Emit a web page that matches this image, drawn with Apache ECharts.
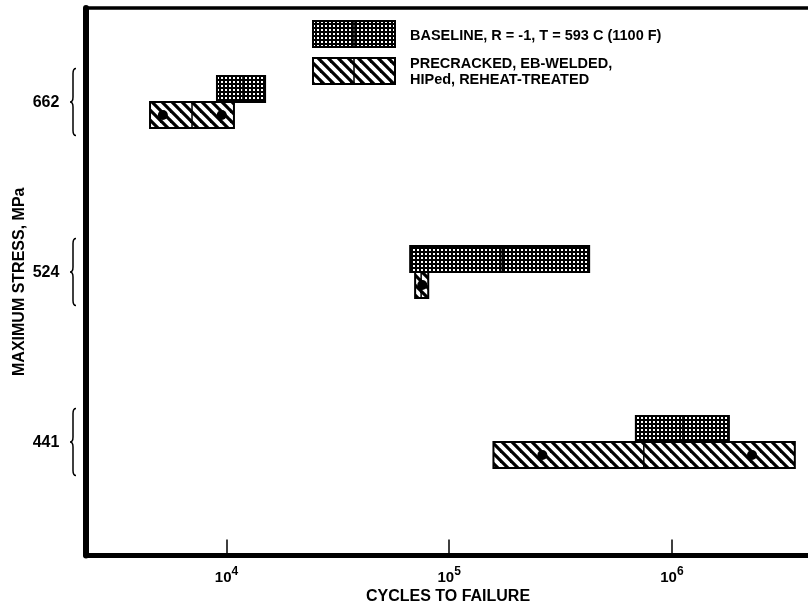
<!DOCTYPE html>
<html><head><meta charset="utf-8">
<script src="https://cdn.jsdelivr.net/npm/echarts@6/dist/echarts.min.js"></script>
<style>html,body{margin:0;padding:0;background:#fff}#c{width:808px;height:608px}</style>
</head><body><div id="c"></div>
<script>
// ---- data ----
const stressLevels = ['662', '524', '441'];
// baseline boxes: low / median / high cycles to failure
const baselineLow  = [9060, 66800, 689000];
const baselineMed  = [11860, 173000, 1121000];
const baselineHigh = [14900, 425000, 1803000];
// precracked, EB-welded, HIPed, reheat-treated boxes
const precrackLow  = [4535, 70300, 158000];
const precrackMed  = [7000, 74800, 748000];
const precrackHigh = [10800, 80500, 3565000];
// individual specimen points (precracked)
const pointLevel  = [0, 0, 1, 2, 2];
const pointCycles = [5180, 9520, 75700, 262000, 2290000];
// x tick exponents (10^n)
const xTickExponents = [4, 5, 6];
const legendBaseline = 'BASELINE, R = -1, T = 593 C (1100 F)';
const legendPrecrack = 'PRECRACKED, EB-WELDED,\nHIPed, REHEAT-TREATED';

const X_MIN = 2339, X_MAX = 4170000;
const FONT = "'Liberation Sans', Arial, Helvetica, sans-serif";

// patterns
function dotPatternCanvas() {
  const c = document.createElement('canvas'); c.width = 4; c.height = 4;
  const g = c.getContext('2d');
  g.fillStyle = '#000'; g.fillRect(0, 0, 4, 4);
  g.fillStyle = '#fff'; g.fillRect(1, 1, 2, 2);
  return c;
}
function hatchPatternCanvas() {
  const c = document.createElement('canvas'); c.width = 10; c.height = 10;
  const g = c.getContext('2d');
  g.fillStyle = '#fff'; g.fillRect(0, 0, 10, 10);
  g.strokeStyle = '#000'; g.lineWidth = 3.2;
  [-10, 0, 10].forEach(o => { g.beginPath(); g.moveTo(o - 2, -2); g.lineTo(o + 12, 12); g.stroke(); });
  return c;
}
const dotFill = { image: dotPatternCanvas(), repeat: 'repeat' };
const hatchFill = { image: hatchPatternCanvas(), repeat: 'repeat' };

const boxData = [];
stressLevels.forEach((s, i) => {
  boxData.push([i, baselineLow[i], baselineMed[i], baselineHigh[i], 0]);
  boxData.push([i, precrackLow[i], precrackMed[i], precrackHigh[i], 1]);
});
const pointData = pointCycles.map((c, i) => [c, pointLevel[i]]);
const levelData = stressLevels.map((s, i) => [i]);

const BOX_H = 26;

const chart = echarts.init(document.getElementById('c'), null, { renderer: 'canvas' });
chart.setOption({
  animation: false,
  backgroundColor: '#fff',
  grid: { left: 86, width: 724, top: 8, bottom: 52.5, outerBoundsMode: 'none', containLabel: false },
  xAxis: [{
    type: 'log', logBase: 10, min: X_MIN, max: X_MAX,
    name: 'CYCLES TO FAILURE', nameLocation: 'middle', nameGap: 33, nameMoveOverlap: false,
    nameTextStyle: { color: '#000', fontFamily: FONT, fontWeight: 'bold', fontSize: 16 },
    axisLine: { show: true, onZero: false, lineStyle: { color: '#000', width: 5 } },
    axisTick: { show: true, inside: true, length: 16, lineStyle: { color: '#000', width: 1.5 } },
    splitLine: { show: false }, minorTick: { show: false },
    axisLabel: {
      margin: 10,
      formatter: v => {
        const l = Math.log10(v), e = Math.round(l);
        if (Math.abs(l - e) > 1e-6 || xTickExponents.indexOf(e) < 0) return '';
        return '{b|10}{s|' + e + '}';
      },
      rich: {
        b: { fontFamily: FONT, fontWeight: 'bold', fontSize: 15, color: '#000', lineHeight: 20, verticalAlign: 'bottom' },
        s: { fontFamily: FONT, fontWeight: 'bold', fontSize: 12, color: '#000', lineHeight: 12, verticalAlign: 'top' }
      }
    }
  }, {
    type: 'log', logBase: 10, min: X_MIN, max: X_MAX, position: 'top',
    axisLine: { show: true, onZero: false, lineStyle: { color: '#000', width: 3.5 } },
    axisTick: { show: false }, axisLabel: { show: false }, splitLine: { show: false }
  }],
  yAxis: {
    type: 'value', inverse: true, min: -0.5529, max: 2.6677,
    name: 'MAXIMUM STRESS, MPa', nameLocation: 'middle', nameRotate: 90, nameGap: 58,
    nameTextStyle: { color: '#000', fontFamily: FONT, fontWeight: 'bold', fontSize: 16 },
    axisLine: { show: true, onZero: false, lineStyle: { color: '#000', width: 6 } },
    axisTick: { show: false }, axisLabel: { show: false }, splitLine: { show: false }
  },
  graphic: [
    { type: 'rect', shape: { x: 313, y: 21, width: 82, height: 26 }, style: { fill: dotFill, stroke: '#000', lineWidth: 2 } },
    { type: 'line', shape: { x1: 354, y1: 21, x2: 354, y2: 47 }, style: { stroke: '#000', lineWidth: 1.5 } },
    { type: 'rect', shape: { x: 313, y: 58, width: 82, height: 26 }, style: { fill: hatchFill, stroke: '#000', lineWidth: 2 } },
    { type: 'line', shape: { x1: 354, y1: 58, x2: 354, y2: 84 }, style: { stroke: '#000', lineWidth: 1.5 } },
    { type: 'text', x: 410, y: 36, style: { text: legendBaseline, fill: '#000', font: 'bold 14.5px ' + FONT, verticalAlign: 'middle' } },
    { type: 'text', x: 410, y: 72, style: { text: legendPrecrack, fill: '#000', font: 'bold 14.5px ' + FONT, verticalAlign: 'middle', lineHeight: 16 } }
  ],
  series: [
    {
      type: 'custom', name: 'boxes', data: boxData, encode: { x: [1, 2, 3], y: 0 }, clip: false,
      renderItem: (params, api) => {
        const lvl = api.value(0), kind = api.value(4);
        const pLo = api.coord([api.value(1), lvl]);
        const pMd = api.coord([api.value(2), lvl]);
        const pHi = api.coord([api.value(3), lvl]);
        const top = kind === 0 ? pLo[1] - BOX_H : pLo[1];
        return { type: 'group', children: [
          { type: 'rect', shape: { x: pLo[0], y: top, width: pHi[0] - pLo[0], height: BOX_H },
            style: { fill: kind === 0 ? dotFill : hatchFill, stroke: '#000', lineWidth: 2 } },
          { type: 'line', shape: { x1: pMd[0], y1: top, x2: pMd[0], y2: top + BOX_H },
            style: { stroke: '#000', lineWidth: 1.5 } }
        ] };
      }
    },
    {
      type: 'scatter', name: 'points', data: pointData, symbol: 'circle', symbolSize: 10,
      symbolOffset: [0, BOX_H / 2], itemStyle: { color: '#000', opacity: 1 }, z: 5
    },
    {
      type: 'custom', name: 'levels', data: levelData, encode: { y: 0 }, clip: false,
      renderItem: (params, api) => {
        const i = api.value(0);
        const y = api.coord([X_MIN, i])[1];
        const x0 = params.coordSys.x;
        const xb = x0 - 13, t = y - 33.5, b = y + 33.5;
        const d = `M${xb + 3},${t} Q${xb},${t} ${xb},${t + 5} L${xb},${y - 5} Q${xb},${y} ${xb - 3},${y} Q${xb},${y} ${xb},${y + 5} L${xb},${b - 5} Q${xb},${b} ${xb + 3},${b}`;
        return { type: 'group', children: [
          { type: 'text', x: x0 - 40, y: y + 1, style: { text: stressLevels[i], fill: '#000', font: 'bold 16px ' + FONT, align: 'center', verticalAlign: 'middle' } },
          { type: 'path', shape: { pathData: d }, style: { stroke: '#000', fill: null, lineWidth: 1.5 } }
        ] };
      }
    }
  ]
});
</script></body></html>
